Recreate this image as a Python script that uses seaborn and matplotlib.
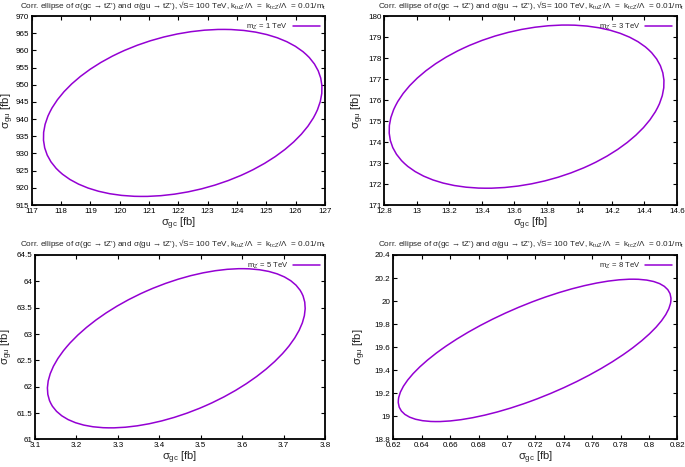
import numpy as np
import matplotlib
matplotlib.use("Agg")
import matplotlib.pyplot as plt
from matplotlib.patches import Ellipse
from matplotlib.lines import Line2D
import seaborn as sns

# ellipse values: centre, half extents, correlation
masses = ["1", "3", "5", "8"]
center_gc = [122.15, 13.675, 3.441, 0.7195]
center_gu = [941.8, 175.685, 62.73, 19.5725]
half_gc = [4.75, 0.845, 0.311, 0.096]
half_gu = [24.3, 3.885, 1.51, 0.6175]
rho = [0.29, 0.29, 0.51, 0.72]

# axis ticks per panel
xticks = [
    [117, 118, 119, 120, 121, 122, 123, 124, 125, 126, 127],
    [12.8, 13.0, 13.2, 13.4, 13.6, 13.8, 14.0, 14.2, 14.4, 14.6],
    [3.1, 3.2, 3.3, 3.4, 3.5, 3.6, 3.7, 3.8],
    [0.62, 0.64, 0.66, 0.68, 0.70, 0.72, 0.74, 0.76, 0.78, 0.80, 0.82],
]
yticks = [
    [915, 920, 925, 930, 935, 940, 945, 950, 955, 960, 965, 970],
    [171, 172, 173, 174, 175, 176, 177, 178, 179, 180],
    [61, 61.5, 62, 62.5, 63, 63.5, 64, 64.5],
    [18.8, 19.0, 19.2, 19.4, 19.6, 19.8, 20.0, 20.2, 20.4],
]

sns.set_style("ticks")
plt.rcParams["font.family"] = ["Liberation Sans", "DejaVu Sans"]
plt.rcParams["mathtext.fontset"] = "custom"
plt.rcParams["mathtext.rm"] = "Liberation Sans"
plt.rcParams["mathtext.it"] = "Liberation Sans"

color = "#9400d3"
title = ("Corr. ellipse of σ(gc → tZ') and σ(gu → tZ'), √S= 100 TeV, "
         "k$_{\\mathrm{tuZ'}}$/Λ  =  k$_{\\mathrm{tcZ'}}$/Λ  = 0.01/m$_{\\mathrm{t}}$")

fig = plt.figure(figsize=(6.85, 4.67), dpi=100)
positions = [
    [0.0463, 0.561, 0.428, 0.4047],
    [0.561, 0.561, 0.4273, 0.4047],
    [0.0511, 0.059, 0.4234, 0.395],
    [0.5742, 0.059, 0.4146, 0.395],
]
# title centres and y-label x positions in figure pixels
title_xy = [(173, 6), (531, 6), (173, 244), (531, 244)]
ylabel_x = [8, 358, 7, 360]

for i in range(4):
    ax = fig.add_axes(positions[i])
    cov = np.array([[half_gc[i] ** 2, rho[i] * half_gc[i] * half_gu[i]],
                    [rho[i] * half_gc[i] * half_gu[i], half_gu[i] ** 2]])
    vals, vecs = np.linalg.eigh(cov)
    if np.linalg.det(vecs) < 0:
        vecs[:, 0] = -vecs[:, 0]
    angle = np.degrees(np.arctan2(vecs[1, 0], vecs[0, 0]))
    ell = Ellipse((center_gc[i], center_gu[i]), 2 * np.sqrt(vals[0]), 2 * np.sqrt(vals[1]),
                  angle=angle, fill=False, edgecolor=color, lw=1.1)
    ax.add_patch(ell)

    ax.set_xlim(xticks[i][0], xticks[i][-1])
    ax.set_ylim(yticks[i][0], yticks[i][-1])
    ax.set_xticks(xticks[i])
    ax.set_yticks(yticks[i])
    ax.set_xticklabels(["%g" % round(v, 4) for v in xticks[i]])
    ax.set_yticklabels(["%g" % round(v, 4) for v in yticks[i]])
    ax.tick_params(direction="in", length=3, width=0.8, labelsize=5.8, pad=2,
                   top=True, right=True, colors="black")
    for s in ax.spines.values():
        s.set_linewidth(1.3)
        s.set_color("black")

    ax.set_xlabel(r"σ$_{\mathrm{gc}}$ [fb]", fontsize=8.0)
    ax.set_ylabel(r"σ$_{\mathrm{gu}}$ [fb]", fontsize=8.2)
    ax.xaxis.set_label_coords(0.5, -0.056)
    pos = positions[i]
    ax.yaxis.set_label_coords((ylabel_x[i] / 685 - pos[0]) / pos[2], 0.5)
    ax.yaxis.label.set_va("center")

    tx, ty = title_xy[i]
    fig.text(tx / 685, 1 - ty / 467, title, fontsize=5.9, ha="center", va="center")

    handle = Line2D([], [], color=color, lw=1.1)
    ax.legend([handle], ["m$_{\\mathrm{Z'}}$ = " + masses[i] + " TeV"], loc="upper right",
              frameon=False, markerfirst=False, fontsize=5.5, handlelength=3.5,
              borderaxespad=0.3, handletextpad=0.6)

fig.savefig("out.png", dpi=100)
